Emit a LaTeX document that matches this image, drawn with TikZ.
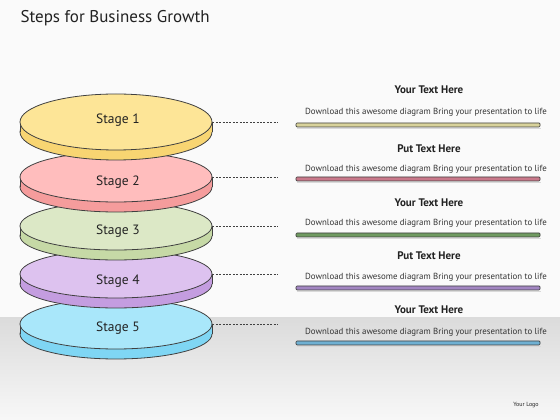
\documentclass[tikz,border=0pt]{standalone}
\usepackage{fontspec}
\setmainfont{PT Sans}
\usetikzlibrary{shapes.geometric}
\definecolor{tA}{HTML}{FDE597}\definecolor{sA}{HTML}{F8D572}
\definecolor{tB}{HTML}{FFBDBD}\definecolor{sB}{HTML}{F59C9C}
\definecolor{tC}{HTML}{DCE8C6}\definecolor{sC}{HTML}{C6D9A6}
\definecolor{tD}{HTML}{DDC2EF}\definecolor{sD}{HTML}{C49DE0}
\definecolor{tE}{HTML}{A9E7FA}\definecolor{sE}{HTML}{7FD6F4}
\definecolor{bA}{HTML}{D8D29A}\definecolor{bB}{HTML}{C9788A}
\definecolor{bC}{HTML}{6F9A60}\definecolor{bD}{HTML}{A286C2}
\definecolor{bE}{HTML}{6FB0D2}
\definecolor{ink}{HTML}{222222}
\begin{document}
\begin{tikzpicture}[x=1pt,y=1pt,
  outline/.style={draw=black!75, line width=0.8pt},
  topface/.style={ellipse, outline, minimum width=192pt, inner sep=0pt},
  stagetext/.style={font=\fontsize{13.5}{15}\selectfont, text=ink},
  leader/.style={black!75, line width=0.6pt, dash pattern=on 2pt off 1.4pt},
  headtext/.style={font=\fontsize{11}{13}\selectfont\bfseries, text=ink},
  desctext/.style={font=\fontsize{8.85}{10}\selectfont, text=black!80},
  bar/.style={draw=black!75, line width=0.7pt, rounded corners=1pt}]
\useasboundingbox (0,0) rectangle (560,420);
\fill[white!98!black] (0,0) rectangle (560,420);
\shade[top color=black!14, bottom color=black!3] (0,0) rectangle (560,102);
\node[anchor=west, font=\fontsize{17}{20}\selectfont, text=ink] (title) at (17,402) {Steps for Business Growth};
% disks, bottom first
\foreach \i/\cy/\ry/\ly/\tc/\sc in {5/324/25/328/tE/sE, 4/274/24/281/tD/sD, 3/226/24/231/tC/sC, 2/177/25/182/tB/sB, 1/122/28/120/tA/sA}{
  \pgfmathsetmacro\Y{420-\cy}
  \filldraw[fill=\sc, outline] (116,\Y-10) ellipse [x radius=96pt, y radius=\ry pt];
  \fill[\sc] (20,\Y-10) rectangle (212,\Y);
  \draw[outline] (20,\Y) -- (20,\Y-10) (212,\Y) -- (212,\Y-10);
  \node[topface, fill=\tc, minimum height=\ry*2pt] (s\i) at (116,\Y) {};
  \node[stagetext] (l\i) at (118,420-\ly) {Stage \i};
  \coordinate (d\i) at (278,\Y);
  \draw[leader] (s\i.east) -- (d\i);
}
% text blocks
\foreach \i/\t/\ty/\dy/\by/\bc in {1/Your Text Here/90/112/125/bA, 2/Put Text Here/149/169/179/bB, 3/Your Text Here/203/223/235/bC, 4/Put Text Here/256/277/288/bD, 5/Your Text Here/310/332/343/bE}{
  \node[headtext] (h\i) at (429,420-\ty) {\t};
  \node[desctext] (p\i) at (426,420-\dy) {Download this awesome diagram Bring your presentation to life};
  \fill[black!15] (297,420-\by-3) rectangle (541,420-\by-4.5);
  \filldraw[bar, fill=\bc] (296,420-\by+2) rectangle (540,420-\by-2);
}
\node[font=\fontsize{6}{7}\selectfont, text=ink] (logo) at (526,15) {Your Logo};
\end{tikzpicture}
\end{document}
